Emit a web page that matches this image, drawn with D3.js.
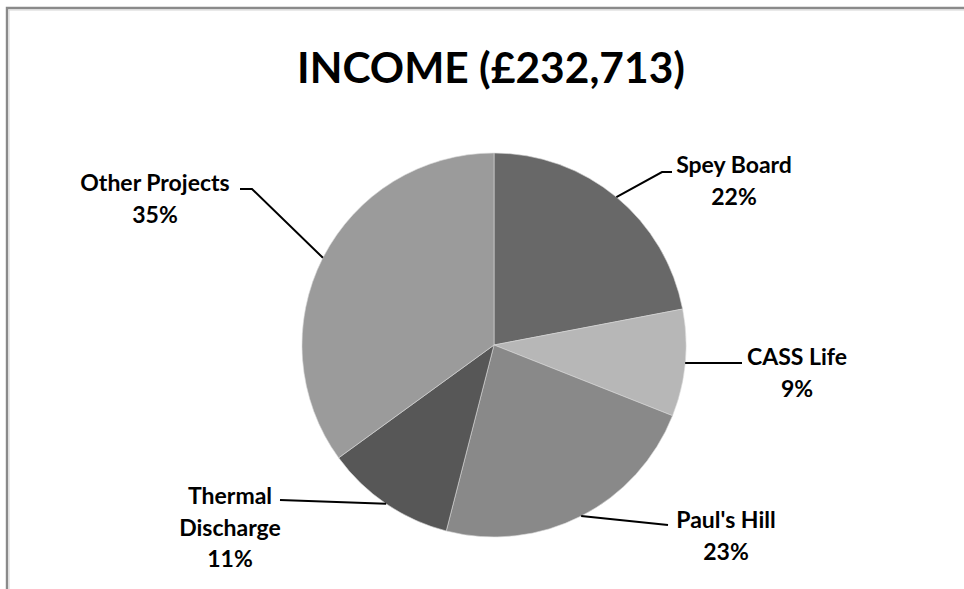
<!DOCTYPE html>
<html>
<head>
<meta charset="utf-8">
<script src="https://cdn.jsdelivr.net/npm/d3@7"></script>
<style>
  html, body { margin: 0; padding: 0; background: #fff; }
  svg { display: block; }
  text { font-family: Lato, "Open Sans", sans-serif; font-weight: 700; fill: #000; }
</style>
</head>
<body>
<svg id="chart" width="964" height="589"></svg>
<script>
// Income share by source (percent of £232,713)
const categories = ["Spey Board", "CASS Life", "Paul's Hill", "Thermal Discharge", "Other Projects"];
const shares     = [22, 9, 23, 11, 35];
const labelLines = [["Spey Board"], ["CASS Life"], ["Paul's Hill"], ["Thermal", "Discharge"], ["Other Projects"]];
const sliceFills = ["#686868", "#b7b7b7", "#898989", "#575757", "#9b9b9b"];
const title = "INCOME (£232,713)";

// Label placement: text centre x, first baseline y, and leader bend points
const labelLayout = [
  { cx: 734, y: 173, bends: [[662, 172], [672, 172]] },
  { cx: 797, y: 365, bends: [[742, 363]] },
  { cx: 726, y: 528, bends: [[668, 525]] },
  { cx: 230, y: 504, bends: [[280, 500]] },
  { cx: 155, y: 191, bends: [[252, 189], [240, 189]] }
];

const svg = d3.select("#chart");
const W = 964, H = 589;
const cx = 494, cy = 345, R = 192;

// Chart area frame (top and left edges visible)
svg.append("path")
  .attr("d", `M7,${H} L7,8 L${W},8`)
  .attr("fill", "none")
  .attr("stroke", "#8a8a8a")
  .attr("stroke-width", 2.4);
svg.append("path")
  .attr("d", `M9,${H} L9,10 L${W},10`)
  .attr("fill", "none")
  .attr("stroke", "#d4d4d4")
  .attr("stroke-width", 1);

// Title
svg.append("text")
  .attr("x", 491)
  .attr("y", 83)
  .attr("text-anchor", "middle")
  .style("font-size", "42.5px")
  .text(title);

const data = categories.map((c, i) => ({ name: c, value: shares[i], i }));
const pie = d3.pie().value(d => d.value).sort(null);
const arcs = pie(data);
const arc = d3.arc().innerRadius(0).outerRadius(R);

const g = svg.append("g").attr("transform", `translate(${cx},${cy})`);
g.selectAll("path.slice")
  .data(arcs)
  .join("path")
  .attr("class", "slice")
  .attr("d", arc)
  .attr("fill", d => sliceFills[d.data.i])
  .attr("stroke", "#d8d8d8")
  .attr("stroke-width", 0.6);

// Leader lines from the middle of each slice's rim
arcs.forEach((a, i) => {
  const mid = (a.startAngle + a.endAngle) / 2;
  const sx = cx + R * Math.sin(mid);
  const sy = cy - R * Math.cos(mid);
  const pts = [[sx, sy], ...labelLayout[i].bends];
  svg.append("path")
    .attr("d", d3.line()(pts))
    .attr("fill", "none")
    .attr("stroke", "#000")
    .attr("stroke-width", 2);
});

// Labels: category name lines then the percentage
arcs.forEach((a, i) => {
  const L = labelLayout[i];
  const lines = [...labelLines[i], `${a.data.value}%`];
  const t = svg.append("text")
    .attr("text-anchor", "middle")
    .style("font-size", "23px");
  lines.forEach((ln, k) => {
    t.append("tspan")
      .attr("x", L.cx)
      .attr("y", L.y + k * 31.5)
      .text(ln);
  });
});
</script>
</body>
</html>
